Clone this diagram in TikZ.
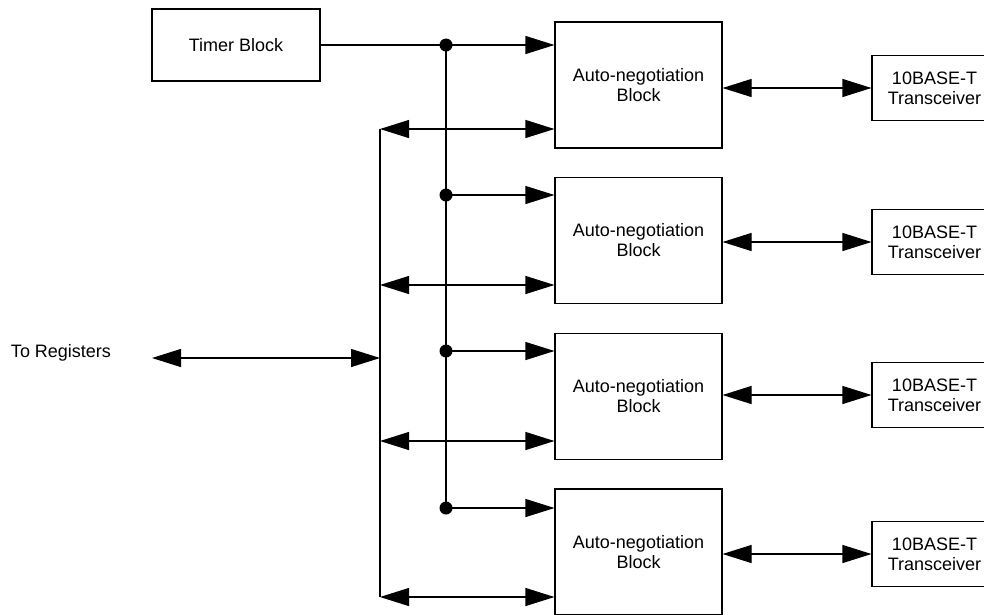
\documentclass[tikz,border=0pt]{standalone}
\usepackage{fontspec}
\setmainfont{Liberation Sans}
\usetikzlibrary{arrows.meta}
\tikzset{
	blk/.style={draw, line width=1.1pt, inner sep=0pt, align=center, font=\fontsize{18}{20}\selectfont},
	wire/.style={line width=1.1pt},
	onearrow/.style={wire, -{Triangle[length=29pt,width=18pt]}},
	twoarrow/.style={wire, {Triangle[length=29pt,width=18pt]}-{Triangle[length=29pt,width=18pt]}},
}

\begin{document}
\begin{tikzpicture}[x=1pt, y=-1pt]
			%%%%% START %%%%%
			\useasboundingbox (0, 0) rectangle (984, 614);
			
			\node[blk, minimum width=168pt, minimum height=72pt] (timer) at (236, 45) {Timer Block};
			\node[font=\fontsize{18}{20}\selectfont] (reg) at (61, 353) {To Registers};
			
			\node[blk, minimum width=167pt, minimum height=126pt] (an1) at (638.5, 85) {Auto-negotiation\\Block};
			\node[blk, minimum width=167pt, minimum height=126pt] (an2) at (638.5, 240.5) {Auto-negotiation\\Block};
			\node[blk, minimum width=167pt, minimum height=126pt] (an3) at (638.5, 396.5) {Auto-negotiation\\Block};
			\node[blk, minimum width=167pt, minimum height=126pt] (an4) at (638.5, 552) {Auto-negotiation\\Block};
			
			\node[blk, minimum width=125pt, minimum height=65pt] (tr1) at (934.5, 88) {10BASE-T\\Transceiver};
			\node[blk, minimum width=125pt, minimum height=65pt] (tr2) at (934.5, 242) {10BASE-T\\Transceiver};
			\node[blk, minimum width=125pt, minimum height=65pt] (tr3) at (934.5, 395) {10BASE-T\\Transceiver};
			\node[blk, minimum width=125pt, minimum height=65pt] (tr4) at (934.5, 554) {10BASE-T\\Transceiver};
			
			% timer line and taps
			\coordinate (j1) at (446, 45);
			\coordinate (j2) at (446, 195);
			\coordinate (j3) at (446, 351);
			\coordinate (j4) at (446, 508);
			\draw[wire] (timer.east) -- (j1);
			\draw[wire] (j1) -- (j4);
			\foreach \i in {1,2,3,4} {
				\fill (j\i) circle (6.5);
				\draw[onearrow] (j\i) -- (j\i -| an\i.west);
				\draw[twoarrow] (an\i.east |- tr\i.west) -- (tr\i.west);
			}
			
			% register bus
			\coordinate (b1) at (380, 129);
			\coordinate (b2) at (380, 285);
			\coordinate (b3) at (380, 441);
			\coordinate (b4) at (380, 597);
			\draw[wire] (b1) -- (b4);
			\foreach \i in {1,2,3,4}
				\draw[twoarrow] (b\i) -- (b\i -| an\i.west);
			\draw[twoarrow] (152, 358) -- (380, 358);
			
			%%%%% END %%%%%
\end{tikzpicture}
\end{document}
